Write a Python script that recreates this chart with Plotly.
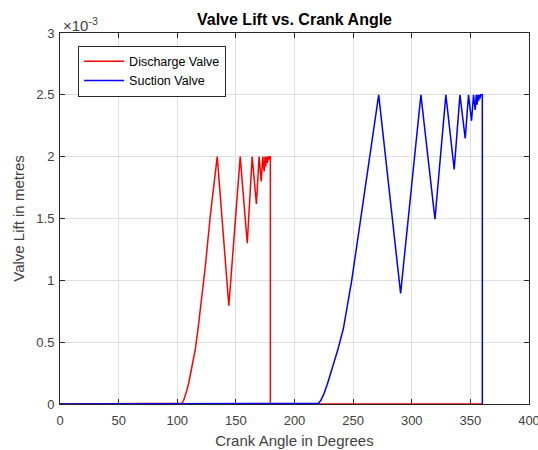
import plotly.graph_objects as go

# ---- data (angles in degrees, lift in metres) ----
discharge_angle = [0, 102.6, 104.0, 105.5, 107.0, 108.5, 110.0, 112.5, 115.3, 117.5, 119.6, 123.9, 128.1, 134.1,
                   144.0, 153.7, 159.7, 163.9, 167.5, 169.8, 171.6, 173.0, 174.1, 174.8,
                   175.5, 176.2, 176.8, 177.3, 177.8, 178.3, 179.4, 179.4, 360]
discharge_lift = [0, 0, 0.000006, 0.00003, 0.00007, 0.00012, 0.00018, 0.00030, 0.000437, 0.00059, 0.00076, 0.00111,
                  0.001514, 0.0020,
                  0.000795, 0.0020, 0.00130, 0.0020, 0.001617, 0.0020, 0.00180, 0.0020, 0.00188, 0.0020,
                  0.00192, 0.0020, 0.00195, 0.0020, 0.00197, 0.0020, 0.0020, 0, 0]

suction_angle = [0, 218.6, 220.5, 222.5, 225.0, 228.0, 231.0, 234.0, 237.0, 241.7, 245.0, 248.8, 255.9, 264.4, 271.8,
                 290.5, 307.8, 319.8, 329.1, 336.2, 341.1, 345.6, 348.4, 351.0, 352.7, 354.1,
                 355.0, 355.7, 356.4, 357.0, 357.6, 358.2, 358.7, 360.2, 360.2]
suction_lift = [0, 0, 0.000006, 0.00003, 0.00008, 0.00016, 0.00025, 0.00034, 0.00044, 0.00061, 0.00080, 0.0010,
                0.00146, 0.0020, 0.0025,
                0.000895, 0.0025, 0.001495, 0.0025, 0.001897, 0.0025, 0.002148, 0.0025, 0.00229, 0.0025, 0.002377,
                0.0025, 0.00242, 0.0025, 0.00245, 0.0025, 0.00247, 0.0025, 0.0025, 0]

x_ticks = [0, 50, 100, 150, 200, 250, 300, 350, 400]
y_ticks = [0, 0.0005, 0.001, 0.0015, 0.002, 0.0025, 0.003]
y_tick_text = ["0", "0.5", "1", "1.5", "2", "2.5", "3"]

AX = "#262626"
GRID = "#dfdfdf"
FONT = "Liberation Sans, Arial, Helvetica, sans-serif"

fig = go.Figure()
fig.add_trace(go.Scatter(x=discharge_angle, y=discharge_lift, mode="lines",
                         name="Discharge Valve", line=dict(color="#ff0000", width=1.5)))
fig.add_trace(go.Scatter(x=suction_angle, y=suction_lift, mode="lines",
                         name="Suction Valve", line=dict(color="#0000ff", width=1.5)))

axis_common = dict(showline=True, linecolor=AX, linewidth=1, mirror="ticks",
                   ticks="inside", ticklen=5, tickcolor=AX, tickwidth=1,
                   showgrid=True, gridcolor=GRID, gridwidth=1, zeroline=False,
                   layer="below traces", automargin=False,
                   tickfont=dict(family=FONT, size=13, color="#404040"))

fig.update_xaxes(range=[0, 400], tickvals=x_ticks, ticklabeloverflow="allow",
                 ticklabelstandoff=4,
                 title=dict(text="Crank Angle in Degrees", font=dict(family=FONT, size=15, color="#404040"),
                            standoff=8),
                 **axis_common)
fig.update_yaxes(range=[0, 0.003], tickvals=y_ticks, ticktext=y_tick_text,
                 ticklabelstandoff=2,
                 title=dict(text="Valve Lift in metres", font=dict(family=FONT, size=15, color="#404040"),
                            standoff=8),
                 **axis_common)

fig.update_layout(
    width=538, height=450,
    margin=dict(l=60, r=9, t=33, b=46, autoexpand=False),
    paper_bgcolor="white", plot_bgcolor="white",
    title=dict(text="<b>Valve Lift vs. Crank Angle</b>", x=0.5, xref="paper", xanchor="center",
               y=1 - 19 / 450, yref="container", yanchor="middle",
               font=dict(family=FONT, size=16, color="black")),
    legend=dict(x=0.0386, y=0.966, xanchor="left", yanchor="top",
                bgcolor="white", bordercolor=AX, borderwidth=1,
                font=dict(family=FONT, size=12.5, color="black"),
                itemwidth=40, tracegroupgap=0),
    showlegend=True,
    annotations=[dict(text="\u00d710<sup>-3</sup>", xref="paper", yref="paper",
                      x=0.0, y=1.0, xanchor="left", yanchor="bottom", yshift=-3, xshift=1,
                      showarrow=False, font=dict(family=FONT, size=15, color="#404040"))],
)

fig.write_html("out.html")
